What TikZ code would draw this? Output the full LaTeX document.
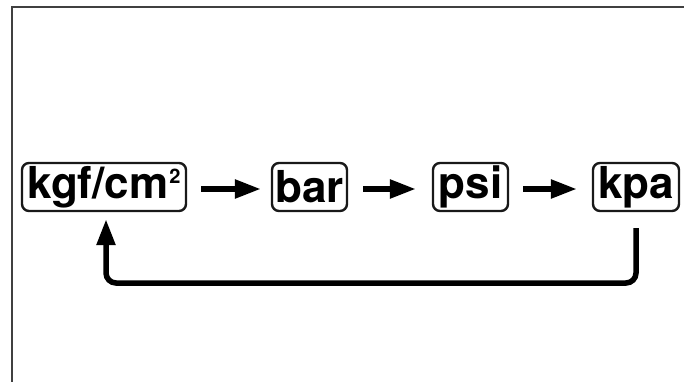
\documentclass[tikz,border=0pt]{standalone}
\usepackage{fontspec}
\setmainfont{TeX Gyre Heros}
\usetikzlibrary{arrows.meta,calc}
\begin{document}
\begin{tikzpicture}[x=1pt,y=-1pt,
  unit/.style={draw=black!90,line width=2.4pt,rounded corners=7pt,font=\fontsize{44}{44}\selectfont\bfseries,inner xsep=0pt,inner ysep=0pt,minimum height=48pt,anchor=center},
  flow/.style={line width=5.5pt,-{Triangle[length=26pt,width=18pt]}},
  frame/.style={draw=black!75,line width=1.4pt}]
\useasboundingbox (0,0) rectangle (684,382);
\draw[frame] (12,382) -- (12,7) -- (684,7);
\node[unit,minimum width=164pt] (kgf) at (104,187) {kgf/cm\kern1pt\raisebox{15pt}{\fontsize{20}{20}\selectfont 2}};
\node[unit,minimum width=75pt] (bar) at (309.5,187) {bar};
\node[unit,minimum width=75pt] (psi) at (470.5,187) {psi};
\node[unit,minimum width=86pt] (kpa) at (636,187) {kpa};
\draw[flow] ($(kgf.east)+(14,2)$) -- ($(bar.west)+(-10,2)$);
\draw[flow] ($(bar.east)+(15,2)$) -- ($(psi.west)+(-16,2)$);
\draw[flow] ($(psi.east)+(14,2)$) -- ($(kpa.west)+(-15,2)$);
\coordinate (kb) at ($(kpa.south)+(0,16)$);
\coordinate (gb) at ($(kgf.south -| 106,0)+(0,7)$);
\draw[flow,rounded corners=10pt] (kb) -- (636,283) -- (106,283) -- (gb);
\end{tikzpicture}
\end{document}
